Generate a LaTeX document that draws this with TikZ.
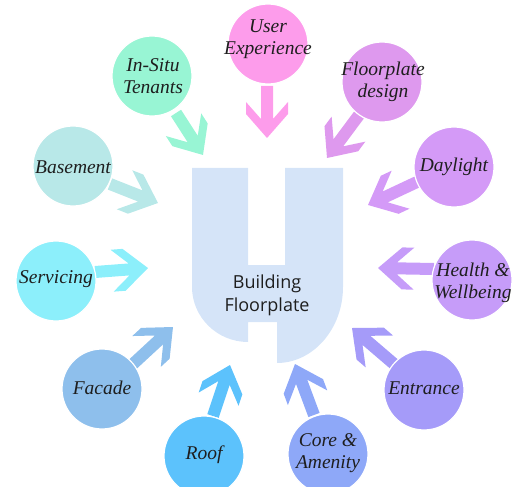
\documentclass[tikz,border=0pt]{standalone}
\usepackage{fontspec}
\setmainfont{Liberation Serif}
\newfontfamily\centrefont{Open Sans}
\usetikzlibrary{calc}
\definecolor{cUX}{HTML}{FD9CEB}
\definecolor{cIST}{HTML}{98F5D4}
\definecolor{cFD}{HTML}{DE99EE}
\definecolor{cDAY}{HTML}{D49AF7}
\definecolor{cHW}{HTML}{C69CF9}
\definecolor{cENT}{HTML}{A59BF9}
\definecolor{cCORE}{HTML}{8EA8F8}
\definecolor{cROOF}{HTML}{5CC2FC}
\definecolor{cFAC}{HTML}{8EBFEC}
\definecolor{cSERV}{HTML}{8CEFFB}
\definecolor{cBASE}{HTML}{B8E8E8}
\definecolor{cCTR}{HTML}{D5E4F8}
\definecolor{cTXT}{HTML}{1E1E1E}
\newcommand\chev[3]{%
  \fill[#3] let \p1=($(#2)-(#1)$), \n1={atan2(\y1,\x1)}, \n2={veclen(\x1,\y1)} in
    [shift={(#1)}, rotate=\n1]
    (0,-6) -- (\n2-19,-6) -- (\n2-36,-21) -- (\n2-24,-21) -- (\n2,0)
    -- (\n2-24,21) -- (\n2-36,21) -- (\n2-19,6) -- (0,6) -- cycle;}
\tikzset{
  bubble/.style={circle, minimum size=80pt, inner sep=0pt,
    draw=white, line width=1.2pt},
  lbl/.style={align=center, text=cTXT, inner sep=0pt,
    font=\fontsize{19.5}{22.5}\selectfont\itshape},
  centretext/.style={align=center, text=cTXT, inner sep=0pt,
    font=\centrefont\fontsize{18}{23}\selectfont}
}
\begin{document}
\begin{tikzpicture}[x=1pt,y=-1pt]
\useasboundingbox (0,0) rectangle (515,487);
\clip (0,0) rectangle (515,487);
% centre shape
\fill[cCTR] (192,168) -- (248,168) -- (248,265) -- (285,265) -- (285,168) -- (343,168)
  -- (343,287) .. controls (343,329) and (313,363) .. (277,363)
  -- (277,322) -- (248,322) -- (248,342)
  .. controls (217,342) and (192,317) .. (192,287) -- cycle;
\node[centretext] (bf) at (267,295) {Building\\Floorplate};
% arrow end points
\coordinate (a1s) at (267,86);  \coordinate (a1e) at (267,138);
\coordinate (a2s) at (176,113); \coordinate (a2e) at (203,155);
\coordinate (a3s) at (359,115); \coordinate (a3e) at (327,158);
\coordinate (a4s) at (417,182); \coordinate (a4e) at (368,205);
\coordinate (a5s) at (434,269); \coordinate (a5e) at (378,268);
\coordinate (a6s) at (394,364); \coordinate (a6e) at (352,328);
\coordinate (a7s) at (314,415); \coordinate (a7e) at (295,364);
\coordinate (a8s) at (213,416); \coordinate (a8e) at (230,365);
\coordinate (a9s) at (133,364); \coordinate (a9e) at (173,327);
\coordinate (a10s) at (95,272); \coordinate (a10e) at (148,268);
\coordinate (a11s) at (110,184); \coordinate (a11e) at (158,203);
\chev{a1s}{a1e}{cUX}
\chev{a2s}{a2e}{cIST}
\chev{a3s}{a3e}{cFD}
\chev{a4s}{a4e}{cDAY}
\chev{a5s}{a5e}{cHW}
\chev{a6s}{a6e}{cENT}
\chev{a7s}{a7e}{cCORE}
\chev{a8s}{a8e}{cROOF}
\chev{a9s}{a9e}{cFAC}
\chev{a10s}{a10e}{cSERV}
\chev{a11s}{a11e}{cBASE}
% bubbles
\node[bubble, fill=cUX] (ux) at (268,44) {};
\node[bubble, fill=cIST] (ist) at (152,76) {};
\node[bubble, fill=cFD] (fd) at (382,82) {};
\node[bubble, fill=cDAY] (day) at (454,167) {};
\node[bubble, fill=cHW] (hw) at (472,280) {};
\node[bubble, fill=cENT] (ent) at (424,390) {};
\node[bubble, fill=cCORE] (core) at (328,454) {};
\node[bubble, fill=cROOF] (roof) at (204,456) {};
\node[bubble, fill=cFAC] (fac) at (102,389) {};
\node[bubble, fill=cSERV] (serv) at (56,281) {};
\node[bubble, fill=cBASE] (base) at (73,166) {};
% labels
\node[lbl] (uxt) at (268,39) {User\\Experience};
\node[lbl] (istt) at (153,76) {In-Situ\\Tenants};
\node[lbl] (fdt) at (383,82) {Floorplate\\design};
\node[lbl] (dayt) at (454,167) {Daylight};
\node[lbl] (hwt) at (473,283) {Health \&\\Wellbeing};
\node[lbl] (entt) at (424,388) {Entrance};
\node[lbl] (coret) at (328,453) {Core \&\\Amenity};
\node[lbl] (rooft) at (204,455) {Roof};
\node[lbl] (fact) at (102,388) {Facade};
\node[lbl] (servt) at (56,279) {Servicing};
\node[lbl] (baset) at (73,167) {Basement};
\end{tikzpicture}
\end{document}
